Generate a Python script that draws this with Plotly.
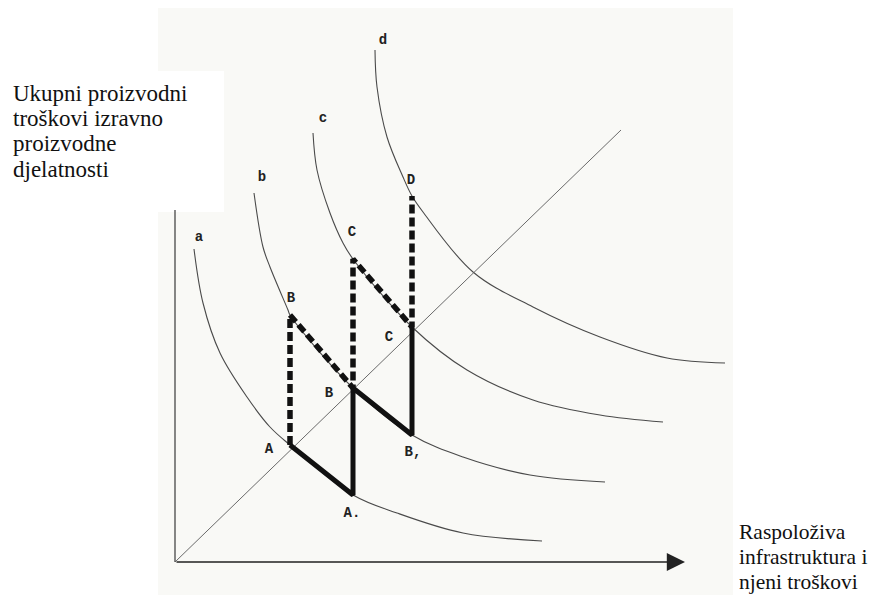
import plotly.graph_objects as go

# ---- data (logical units: origin at axes corner) ----
curve_a_x = [3.8, 5.6, 9.0, 14.4, 19.0, 23.0, 35.6, 44.4, 57.6, 73.4]
curve_a_y = [62.6, 51.8, 41.8, 33.0, 27.0, 23.4, 13.4, 9.8, 5.8, 4.2]
curve_b_x = [15.8, 17.6, 19.0, 22.6, 23.0, 35.6, 47.4, 57.6, 71.0, 86.0]
curve_b_y = [73.8, 63.0, 59.0, 50.4, 49.4, 34.8, 25.4, 21.0, 17.4, 16.0]
curve_c_x = [27.6, 28.4, 31.0, 33.6, 35.6, 47.4, 58.4, 71.6, 85.0, 97.6]
curve_c_y = [85.8, 78.4, 69.8, 63.8, 60.6, 47.0, 38.4, 32.4, 29.4, 28.0]
curve_d_x = [40.0, 40.4, 42.4, 45.6, 47.4, 49.6, 59.6, 71.6, 85.0, 98.4, 110.0]
curve_d_y = [102.4, 95.0, 85.0, 77.0, 73.2, 70.0, 58.0, 51.0, 45.0, 40.8, 39.8]

diag_x = [0, 89.2]
diag_y = [0, 86.4]

solid_x = [23.0, 35.6, 35.6, 47.4, 47.4]
solid_y = [23.4, 13.4, 34.8, 25.4, 47.0]
dashed_x = [23.0, 23.0, 35.6, 35.6, 47.4, 47.4]
dashed_y = [23.4, 49.4, 34.8, 60.6, 47.0, 73.2]

label_text = ['a', 'b', 'c', 'd', 'A', 'B', 'B', 'C', 'C', 'D', 'A.', 'B,']
label_x = [4.8, 17.4, 29.6, 41.6, 18.8, 23.2, 30.8, 35.4, 42.8, 47.2, 35.4, 47.6]
label_y = [65.0, 77.0, 88.8, 104.4, 22.6, 52.8, 33.8, 66.0, 45.0, 76.4, 9.8, 22.0]

yaxis_top = 70.4
xaxis_tip = 102.0

y_title_lines = ['Ukupni proizvodni', 'troškovi izravno', 'proizvodne', 'djelatnosti']
x_title_lines = ['Raspoloživa', 'infrastruktura i', 'njeni troškovi']

# page has an 8px body margin: figure pixel = page pixel - 8
OFF = 8
W, H = 876 - OFF, 595 - OFF
PX = 5.0                       # pixels per unit
OX, OY = 175 - OFF, 562 - OFF  # origin in figure pixels

fig = go.Figure()

thin = dict(color='#4a4a4a', width=1.1)
for cx, cy in [(curve_a_x, curve_a_y), (curve_b_x, curve_b_y),
               (curve_c_x, curve_c_y), (curve_d_x, curve_d_y)]:
    fig.add_trace(go.Scatter(x=cx, y=cy, mode='lines',
                             line=dict(shape='spline', smoothing=1.0, **thin),
                             hoverinfo='skip', showlegend=False))

fig.add_trace(go.Scatter(x=diag_x, y=diag_y, mode='lines',
                         line=dict(color='#6a6a6a', width=1.0),
                         hoverinfo='skip', showlegend=False))

# y axis line
fig.add_trace(go.Scatter(x=[0, 0], y=[0, yaxis_top], mode='lines',
                         line=dict(color='#555', width=1.4),
                         hoverinfo='skip', showlegend=False))

fig.add_trace(go.Scatter(x=dashed_x, y=dashed_y, mode='lines',
                         line=dict(color='#111', width=5.5, dash='9px,4px'),
                         hoverinfo='skip', showlegend=False))
fig.add_trace(go.Scatter(x=solid_x, y=solid_y, mode='lines',
                         line=dict(color='#111', width=5),
                         hoverinfo='skip', showlegend=False))

fig.add_trace(go.Scatter(x=label_x, y=label_y, mode='text',
                         text=['<b>%s</b>' % t for t in label_text],
                         textfont=dict(family='Liberation Mono', size=14, color='#222'),
                         hoverinfo='skip', showlegend=False))

# x axis with arrow
fig.add_annotation(x=xaxis_tip, y=0, ax=0, ay=0, xref='x', yref='y',
                   axref='x', ayref='y', showarrow=True, text='',
                   arrowhead=2, arrowsize=2.8, arrowwidth=1.3, arrowcolor='#222')

for i, t in enumerate(y_title_lines):
    fig.add_annotation(x=(11 - OFF) / W, y=1 - (93 - OFF + 25.5 * i) / H,
                       xref='paper', yref='paper',
                       text=t, showarrow=False, xanchor='left', yanchor='middle',
                       font=dict(family='Liberation Serif', size=23, color='#111'))
for i, t in enumerate(x_title_lines):
    fig.add_annotation(x=(737 - OFF) / W, y=1 - (532 - OFF + 25 * i) / H,
                       xref='paper', yref='paper',
                       text=t, showarrow=False, xanchor='left', yanchor='middle',
                       font=dict(family='Liberation Serif', size=21.5, color='#111'))

# scanned-page background and white text box
fig.add_shape(type='rect', xref='paper', yref='paper',
              x0=(158 - OFF) / W, x1=(733 - OFF) / W, y0=0, y1=1,
              fillcolor='#f9f9f6', line=dict(width=0), layer='below')
fig.add_shape(type='rect', xref='paper', yref='paper', x0=0, x1=(224 - OFF) / W,
              y0=1 - (212 - OFF) / H, y1=1 - (71 - OFF) / H,
              fillcolor='#ffffff', line=dict(width=0), layer='below')

fig.update_layout(
    width=W, height=H,
    margin=dict(l=0, r=0, t=0, b=0),
    paper_bgcolor='white', plot_bgcolor='rgba(0,0,0,0)',
    xaxis=dict(range=[-OX / PX, (W - OX) / PX], visible=False, fixedrange=True),
    yaxis=dict(range=[(OY - H) / PX, OY / PX], visible=False, fixedrange=True),
)

fig.write_html('out.html')
